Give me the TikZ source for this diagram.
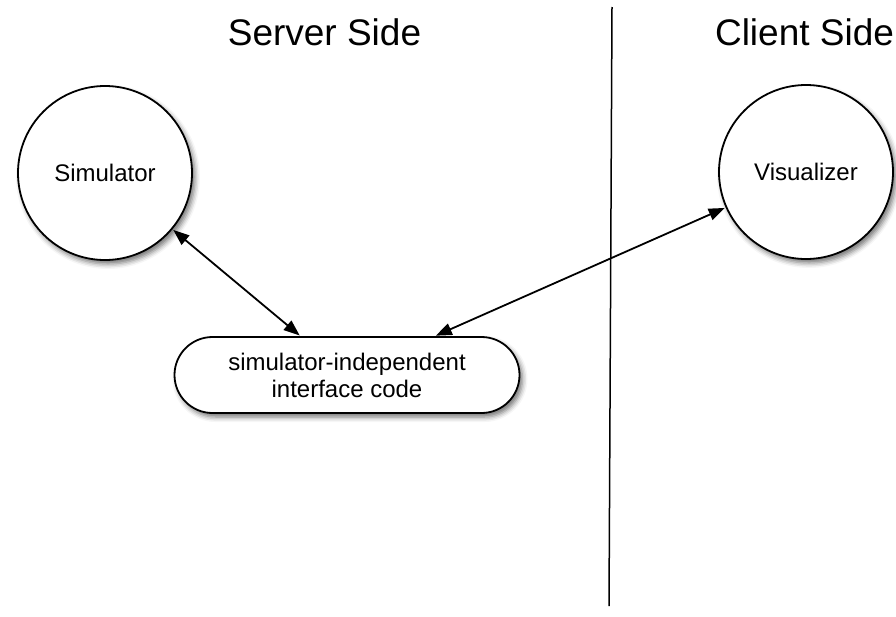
\documentclass[tikz,border=0pt]{standalone}
\usepackage{fontspec}
\setmainfont{Liberation Sans}
\usetikzlibrary{arrows.meta,shadows.blur}

\begin{document}
\begin{tikzpicture}[x=1pt,y=-1pt]

\tikzstyle side=[anchor=base, font=\fontsize{37}{40}\selectfont]
\tikzstyle comp=[circle, draw, line width=1.8pt, fill=white, minimum size=174pt, inner sep=0pt, font=\fontsize{24}{27}\selectfont, blur shadow={shadow xshift=3pt, shadow yshift=-4pt, shadow blur radius=5pt, shadow opacity=55}]
\tikzstyle glue=[rectangle, rounded corners=38pt, draw, line width=1.8pt, fill=white, minimum width=345pt, minimum height=76pt, align=center, font=\fontsize{24}{27}\selectfont, blur shadow={shadow xshift=3pt, shadow yshift=-4pt, shadow blur radius=5pt, shadow opacity=55}]
\tikzstyle link=[{Triangle[length=16pt,width=12pt]}-{Triangle[length=16pt,width=12pt]}, line width=1.8pt, shorten <=1pt, shorten >=1pt]

\useasboundingbox (0,0) rectangle (896,616);

% the two sides and the line between them
\node (ss) [side] at (324.5,45) {Server Side};
\node (cs) [side] at (804.5,45) {Client Side};
\coordinate (top) at (612,7);
\coordinate (bot) at (609,606);
\draw [line width=1.5pt] (top) -- (bot);

\node (sim) [comp] at (105,173) {Simulator};
\node (vis) [comp] at (806,172) {Visualizer};
\node (code) [glue] at (347,375) {simulator-independent\\interface code};

\draw [link] (sim) -- (code);
\draw [link] (code) -- (vis);

\end{tikzpicture}
\end{document}
